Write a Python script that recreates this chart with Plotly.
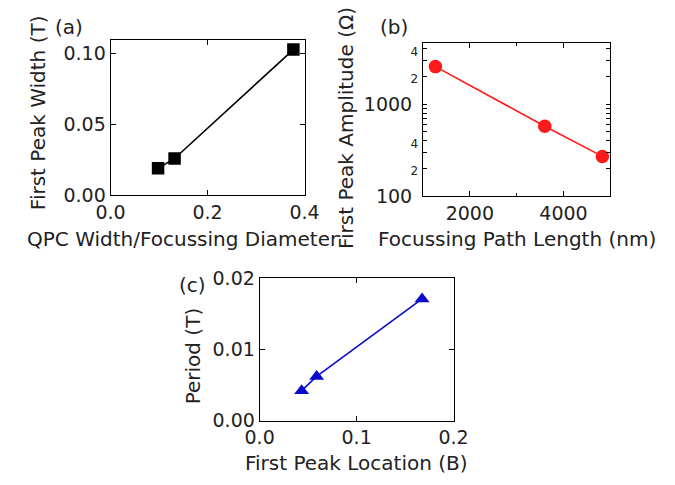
import plotly.graph_objects as go
import numpy as np

# Panel (a)
a_x = [0.098, 0.132, 0.377]
a_y = [0.019, 0.026, 0.103]
# Panel (b)
b_x = [1265, 3600, 4830]
b_y = [2570, 577, 271]
# Panel (c)
c_x = [0.0433, 0.0588, 0.1675]
c_y = [0.0042, 0.0062, 0.0171]

a_xticks = [0.0, 0.2, 0.4]
a_xlabels = ["0.0", "0.2", "0.4"]
a_yticks = [0.0, 0.05, 0.10]
a_ylabels = ["0.00", "0.05", "0.10"]
b_xticks = [2000, 4000]
b_xlabels = ["2000", "4000"]
b_xminor = [3000]
b_yticks = [100, 200, 400, 1000, 2000, 4000]
b_ylabels = ["100", "2", "4", "1000", "2", "4"]
b_yminor = [300, 500, 600, 700, 800, 900, 3000]
c_xticks = [0.0, 0.1, 0.2]
c_xlabels = ["0.0", "0.1", "0.2"]
c_yticks = [0.0, 0.01, 0.02]
c_ylabels = ["0.00", "0.01", "0.02"]

W, H = 675, 485
FONT = "DejaVu Sans"
TXT = "#222222"
TICK = 19
TITLE = 20

def px(x0, x1):
    return [x0 / W, x1 / W]

def py(top, bottom):
    return [1 - bottom / H, 1 - top / H]

fig = go.Figure()
fig.add_trace(go.Scatter(x=a_x, y=a_y, mode="lines+markers", xaxis="x", yaxis="y",
                         line=dict(color="black", width=1.6),
                         marker=dict(symbol="square", size=12.5, color="black")))
fig.add_trace(go.Scatter(x=b_x, y=b_y, mode="lines+markers", xaxis="x2", yaxis="y2",
                         line=dict(color="#ff1a1a", width=1.6),
                         marker=dict(symbol="circle", size=13.5, color="#ff1a1a")))
fig.add_trace(go.Scatter(x=c_x, y=c_y, mode="lines+markers", xaxis="x3", yaxis="y3",
                         line=dict(color="#0a0acc", width=1.6),
                         marker=dict(symbol="triangle-up", size=13, color="#0a0acc")))

def blab(s):
    if len(s) == 1:
        return f"<span style='font-size:12px'>{s}</span>"
    return s + "\u00a0"

common = dict(showline=True, linecolor="black", linewidth=1, mirror="ticks",
              ticks="inside", ticklen=5, tickcolor="black", showgrid=False,
              zeroline=False, tickfont=dict(family=FONT, size=TICK, color=TXT))

fig.update_layout(
    width=W, height=H, margin=dict(l=0, r=0, t=0, b=0),
    paper_bgcolor="white", plot_bgcolor="white", showlegend=False,
    xaxis=dict(domain=px(100, 303), range=[0, 0.4], tickvals=a_xticks, ticktext=a_xlabels,
               anchor="y", **common),
    yaxis=dict(domain=py(30, 193), range=[0, 0.11], tickvals=a_yticks, ticktext=a_ylabels,
               anchor="x", **common),
    xaxis2=dict(domain=px(427, 623), range=[1000, 5000], tickvals=b_xticks, ticktext=b_xlabels,
                minor=dict(ticks="inside", ticklen=3, tickcolor="black", tickvals=b_xminor),
                anchor="y2", **common),
    yaxis2=dict(domain=py(33, 194), type="log", range=[2, np.log10(4700)],
                tickvals=b_yticks, ticktext=[blab(s) for s in b_ylabels],
                minor=dict(ticks="inside", ticklen=4, tickcolor="black", tickvals=b_yminor),
                anchor="x2", **common),
    xaxis3=dict(domain=px(256, 459), range=[0, 0.2], tickvals=c_xticks, ticktext=c_xlabels,
                anchor="y3", **common),
    yaxis3=dict(domain=py(280, 429), range=[0, 0.02], tickvals=c_yticks, ticktext=c_ylabels,
                anchor="x3", **common),
)
fig.update_yaxes(ticklen=4, selector=dict(type="log"))

# axis titles (positions follow the original figure)
titles = [
    ("QPC Width/Focussing Diameter", 176, 239, 0),
    ("First Peak Width (T)", 24, 106, -90),
    ("Focussing Path Length (nm)", 525, 239, 0),
    ("First Peak Amplitude (Ω)", 347, 123, -90),
    ("First Peak Location (B)", 357, 473, 0),
    ("Period (T)", 186, 361, -90),
    ("(a)", 56, 17, 0),
    ("(b)", 397, 17, 0),
    ("(c)", 186, 287, 0),
]
for txt, x, y, ang in titles:
    fig.add_annotation(text=txt, x=x / W, y=1 - y / H, xref="paper", yref="paper",
                       showarrow=False, xanchor="center", yanchor="middle", textangle=ang,
                       font=dict(family=FONT, size=TITLE, color=TXT))

fig.write_html("out.html")
